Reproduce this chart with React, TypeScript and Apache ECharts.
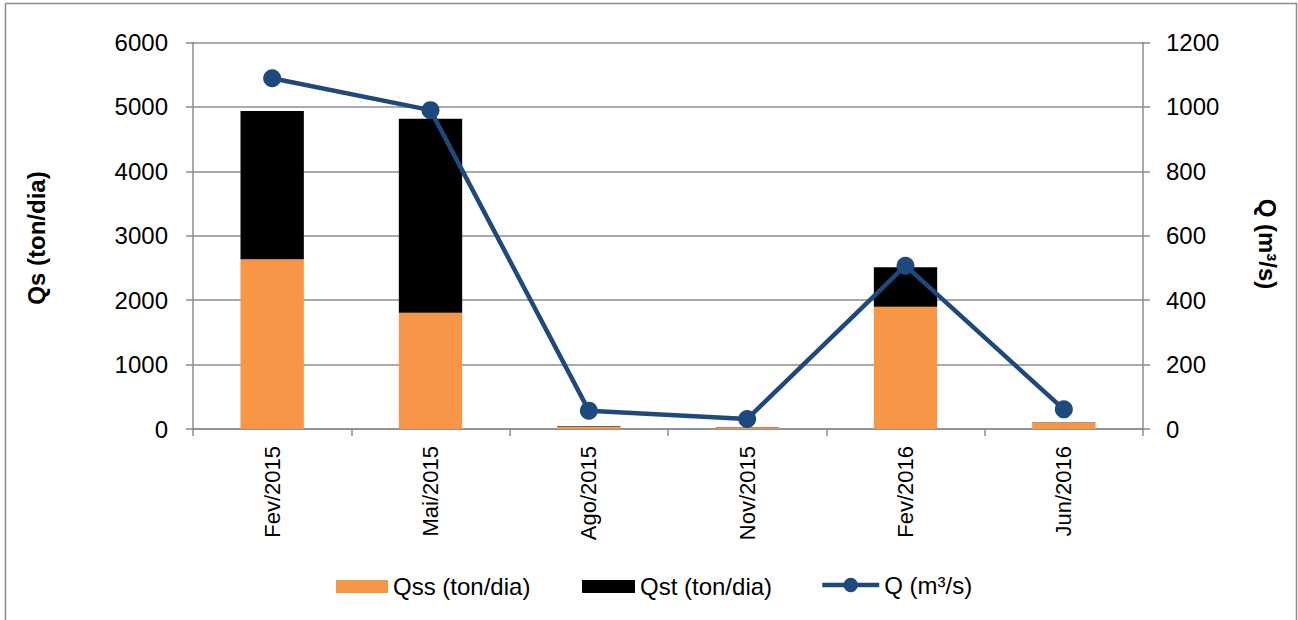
import React, { useEffect, useRef } from "react";
import * as echarts from "echarts";

const categories = ["Fev/2015", "Mai/2015", "Ago/2015", "Nov/2015", "Fev/2016", "Jun/2016"];
const qss = [2635, 1806, 40, 28, 1899, 100];
const qst = [2300, 3012, 6, 4, 612, 4];
const q = [1089, 990, 57, 31, 507, 61];

const FONT = "'Liberation Sans', Arial, sans-serif";
const GRID_COLOR = "#8c8c8c";
const LINE_COLOR = "#1F497D";

const legendText = { fontFamily: FONT, fontSize: 24, color: "#000" };

export default function App() {
  const ref = useRef<HTMLDivElement>(null);

  useEffect(() => {
    if (!ref.current) return;
    const chart = echarts.init(ref.current, undefined, { renderer: "svg" });
    chart.setOption({
      animation: false,
      backgroundColor: "#ffffff",
      textStyle: { fontFamily: FONT },
      grid: { left: 193, right: 155, top: 42.5, bottom: 191 },
      legend: [
        {
          left: 336,
          top: 574.5,
          padding: 0,
          itemWidth: 52,
          itemHeight: 13,
          textStyle: legendText,
          data: [{ name: "Qss (ton/dia)", icon: "rect" }],
        },
        {
          left: 582,
          top: 574.5,
          padding: 0,
          itemWidth: 53,
          itemHeight: 13,
          textStyle: legendText,
          data: [{ name: "Qst (ton/dia)", icon: "rect" }],
        },
        {
          left: 820,
          top: 573,
          padding: 0,
          itemWidth: 57,
          itemHeight: 18,
          textStyle: legendText,
          data: [
            {
              name: "Q (m³/s)",
              lineStyle: { color: LINE_COLOR, width: 4.5 },
              itemStyle: { color: LINE_COLOR },
            },
          ],
        },
      ],
      xAxis: {
        type: "category",
        data: categories,
        axisLine: { lineStyle: { color: GRID_COLOR, width: 1.5 } },
        axisTick: { show: true, length: 7, lineStyle: { color: GRID_COLOR, width: 1.5 } },
        axisLabel: {
          rotate: 90,
          margin: 17,
          fontSize: 22,
          color: "#000",
          fontFamily: FONT,
        },
      },
      yAxis: [
        {
          type: "value",
          min: 0,
          max: 6000,
          interval: 1000,
          position: "left",
          axisLine: { show: true, lineStyle: { color: GRID_COLOR, width: 1.5 } },
          axisTick: { show: true, length: 7, lineStyle: { color: GRID_COLOR, width: 1.5 } },
          splitLine: { show: true, lineStyle: { color: GRID_COLOR, width: 1.5 } },
          axisLabel: {
            fontSize: 24,
            color: "#000",
            margin: 25,
            fontFamily: FONT,
            formatter: (v: number) => String(v),
          },
        },
        {
          type: "value",
          min: 0,
          max: 1200,
          interval: 200,
          position: "right",
          axisLine: { show: true, lineStyle: { color: GRID_COLOR, width: 1.5 } },
          axisTick: { show: true, length: 7, lineStyle: { color: GRID_COLOR, width: 1.5 } },
          splitLine: { show: false },
          axisLabel: {
            fontSize: 24,
            color: "#000",
            margin: 23,
            fontFamily: FONT,
            formatter: (v: number) => String(v),
          },
        },
      ],
      series: [
        {
          name: "Qss (ton/dia)",
          type: "bar",
          stack: "qs",
          data: qss,
          barWidth: "40%",
          itemStyle: { color: "#F79646" },
        },
        {
          name: "Qst (ton/dia)",
          type: "bar",
          stack: "qs",
          data: qst,
          barWidth: "40%",
          itemStyle: { color: "#000000" },
        },
        {
          name: "Q (m³/s)",
          type: "line",
          yAxisIndex: 1,
          data: q,
          symbol: "circle",
          symbolSize: 18,
          lineStyle: { color: LINE_COLOR, width: 4.5 },
          itemStyle: { color: LINE_COLOR },
          z: 5,
        },
      ],
      graphic: [
        {
          type: "rect",
          shape: { x: 5.5, y: 3.5, width: 1291, height: 640 },
          style: { fill: "none", stroke: GRID_COLOR, lineWidth: 1.5 },
          silent: true,
        },
        {
          type: "text",
          x: 36,
          y: 238,
          rotation: Math.PI / 2,
          style: {
            text: "Qs (ton/dia)",
            font: `bold 24px ${FONT}`,
            fill: "#000",
            align: "center",
            verticalAlign: "middle",
          },
        },
        {
          type: "text",
          x: 1267,
          y: 244,
          rotation: -Math.PI / 2,
          style: {
            text: "Q (m³/s)",
            font: `bold 24px ${FONT}`,
            fill: "#000",
            align: "center",
            verticalAlign: "middle",
          },
        },
      ],
    });
    return () => chart.dispose();
  }, []);

  return (
    <div
      ref={ref}
      style={{ position: "fixed", left: 0, top: 0, width: 1298, height: 620 }}
    />
  );
}
